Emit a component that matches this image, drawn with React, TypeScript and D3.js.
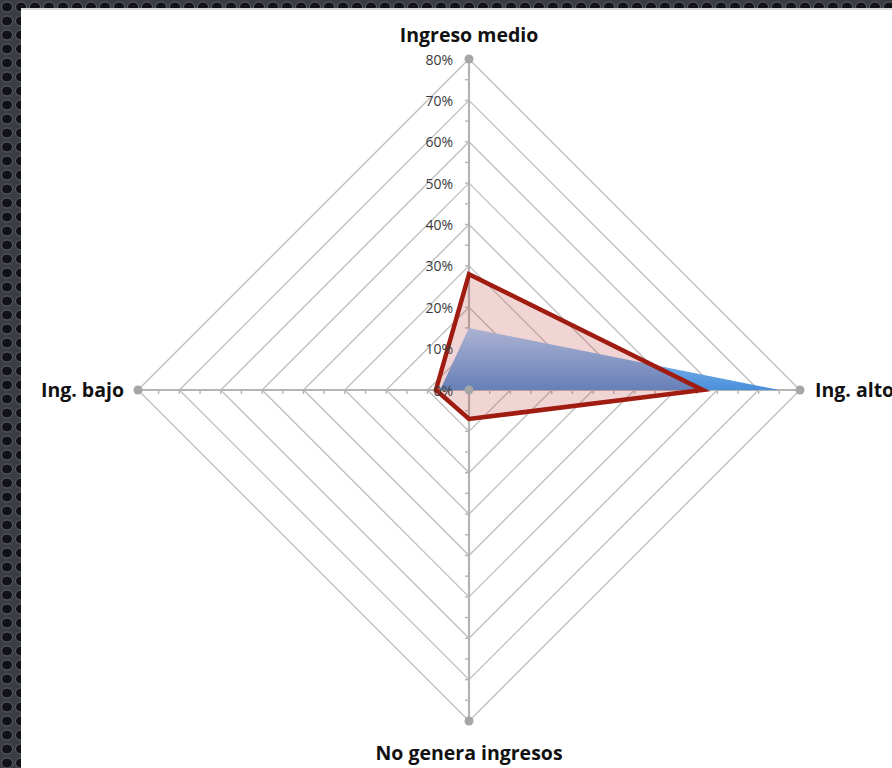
import React from "react";
import * as d3 from "d3";

const axisLabels = ["Ingreso medio", "Ing. alto", "No genera ingresos", "Ing. bajo"];
const seriesBlue = [15, 75, 0, 7];
const seriesRed = [28, 56.5, 7, 8];
const tickValues = [0, 10, 20, 30, 40, 50, 60, 70, 80];
const tickLabels = ["0%", "10%", "20%", "30%", "40%", "50%", "60%", "70%", "80%"];
const minorTicks = d3.range(5, 80, 5);

const W = 892;
const H = 768;
const cx = 469;
const cy = 390;
const R = 331;

export default function App() {
  const r = d3.scaleLinear().domain([0, 80]).range([0, R]);
  const angle = (i: number) => (i * Math.PI) / 2;
  const pt = (i: number, v: number): [number, number] => [
    cx + r(v) * Math.sin(angle(i)),
    cy - r(v) * Math.cos(angle(i)),
  ];
  const radial = d3
    .lineRadial<number>()
    .angle((_, i) => angle(i))
    .radius((d) => r(d))
    .curve(d3.curveLinearClosed);

  const font = "'Open Sans', Lato, sans-serif";

  return (
    <svg width={W} height={H} style={{ position: "absolute", left: 0, top: 0 }}>
      <defs>
        <pattern id="holes" width="14" height="14" patternUnits="userSpaceOnUse">
          <rect width="14" height="14" fill="#3a3d44" />
          <ellipse cx="7" cy="7" rx="5.5" ry="5" fill="#121216" stroke="#5a5e66" strokeWidth="1" />
        </pattern>
        <linearGradient id="blueGrad" x1="0" y1="0" x2="0" y2="1">
          <stop offset="0" stopColor="#a6d2fc" />
          <stop offset="1" stopColor="#4a8fda" />
        </linearGradient>
      </defs>
      <rect x={0} y={0} width={W} height={H} fill="url(#holes)" />
      <rect x={21} y={8} width={W - 21} height={H - 8} fill="#d9d9d9" />
      <rect x={21} y={10} width={W - 21} height={H - 10} fill="#ffffff" />

      {/* rings */}
      <g>
        {tickValues.slice(1).map((t) => (
          <path
            key={t}
            d={radial([t, t, t, t]) || ""}
            transform={`translate(${cx},${cy})`}
            fill="none"
            stroke="#c0c0c0"
            strokeWidth={1.4}
          />
        ))}
      </g>
      {/* axes */}
      <g>
        {axisLabels.map((_, i) => {
          const [x2, y2] = pt(i, 80);
          return (
            <line key={i} x1={cx} y1={cy} x2={x2} y2={y2} stroke="#b4b4b4" strokeWidth={2.2} />
          );
        })}
        {axisLabels.map((_, i) =>
          minorTicks.map((m) => {
            const [x, y] = pt(i, m);
            const horiz = i % 2 === 1;
            return horiz ? (
              <line key={`${i}-${m}`} x1={x} y1={y} x2={x} y2={y + 4} stroke="#b4b4b4" strokeWidth={1.4} />
            ) : (
              <line key={`${i}-${m}`} x1={x - 4} y1={y} x2={x} y2={y} stroke="#b4b4b4" strokeWidth={1.4} />
            );
          })
        )}
      </g>

      {/* series */}
      <path
        d={radial(seriesBlue) || ""}
        transform={`translate(${cx},${cy})`}
        fill="url(#blueGrad)"
        stroke="none"
      />
      <path
        d={radial(seriesRed) || ""}
        transform={`translate(${cx},${cy})`}
        fill="rgba(192,80,77,0.24)"
        stroke="#a01b10"
        strokeWidth={4.5}
        strokeLinejoin="miter"
      />

      {/* axis end dots and center */}
      {axisLabels.map((_, i) => {
        const [x, y] = pt(i, 80);
        return <circle key={i} cx={x} cy={y} r={4.5} fill="#a6a6a6" />;
      })}
      <circle cx={cx} cy={cy} r={4.5} fill="#a6a6a6" />

      {/* tick labels */}
      <g fontFamily={font} fontSize={14} fill="#3a3a3a" textAnchor="end">
        {tickValues.map((t, k) => (
          <text key={t} x={cx - 16} y={cy - r(t) + 5.5}>
            {tickLabels[k]}
          </text>
        ))}
      </g>

      {/* category labels */}
      <g fontFamily={font} fontSize={19.5} fontWeight="bold" fill="#111">
        <text x={cx} y={42} textAnchor="middle">{axisLabels[0]}</text>
        <text x={pt(1, 80)[0] + 15} y={cy + 7} textAnchor="start">{axisLabels[1]}</text>
        <text x={cx} y={760} textAnchor="middle">{axisLabels[2]}</text>
        <text x={pt(3, 80)[0] - 14} y={cy + 7} textAnchor="end">{axisLabels[3]}</text>
      </g>
    </svg>
  );
}
